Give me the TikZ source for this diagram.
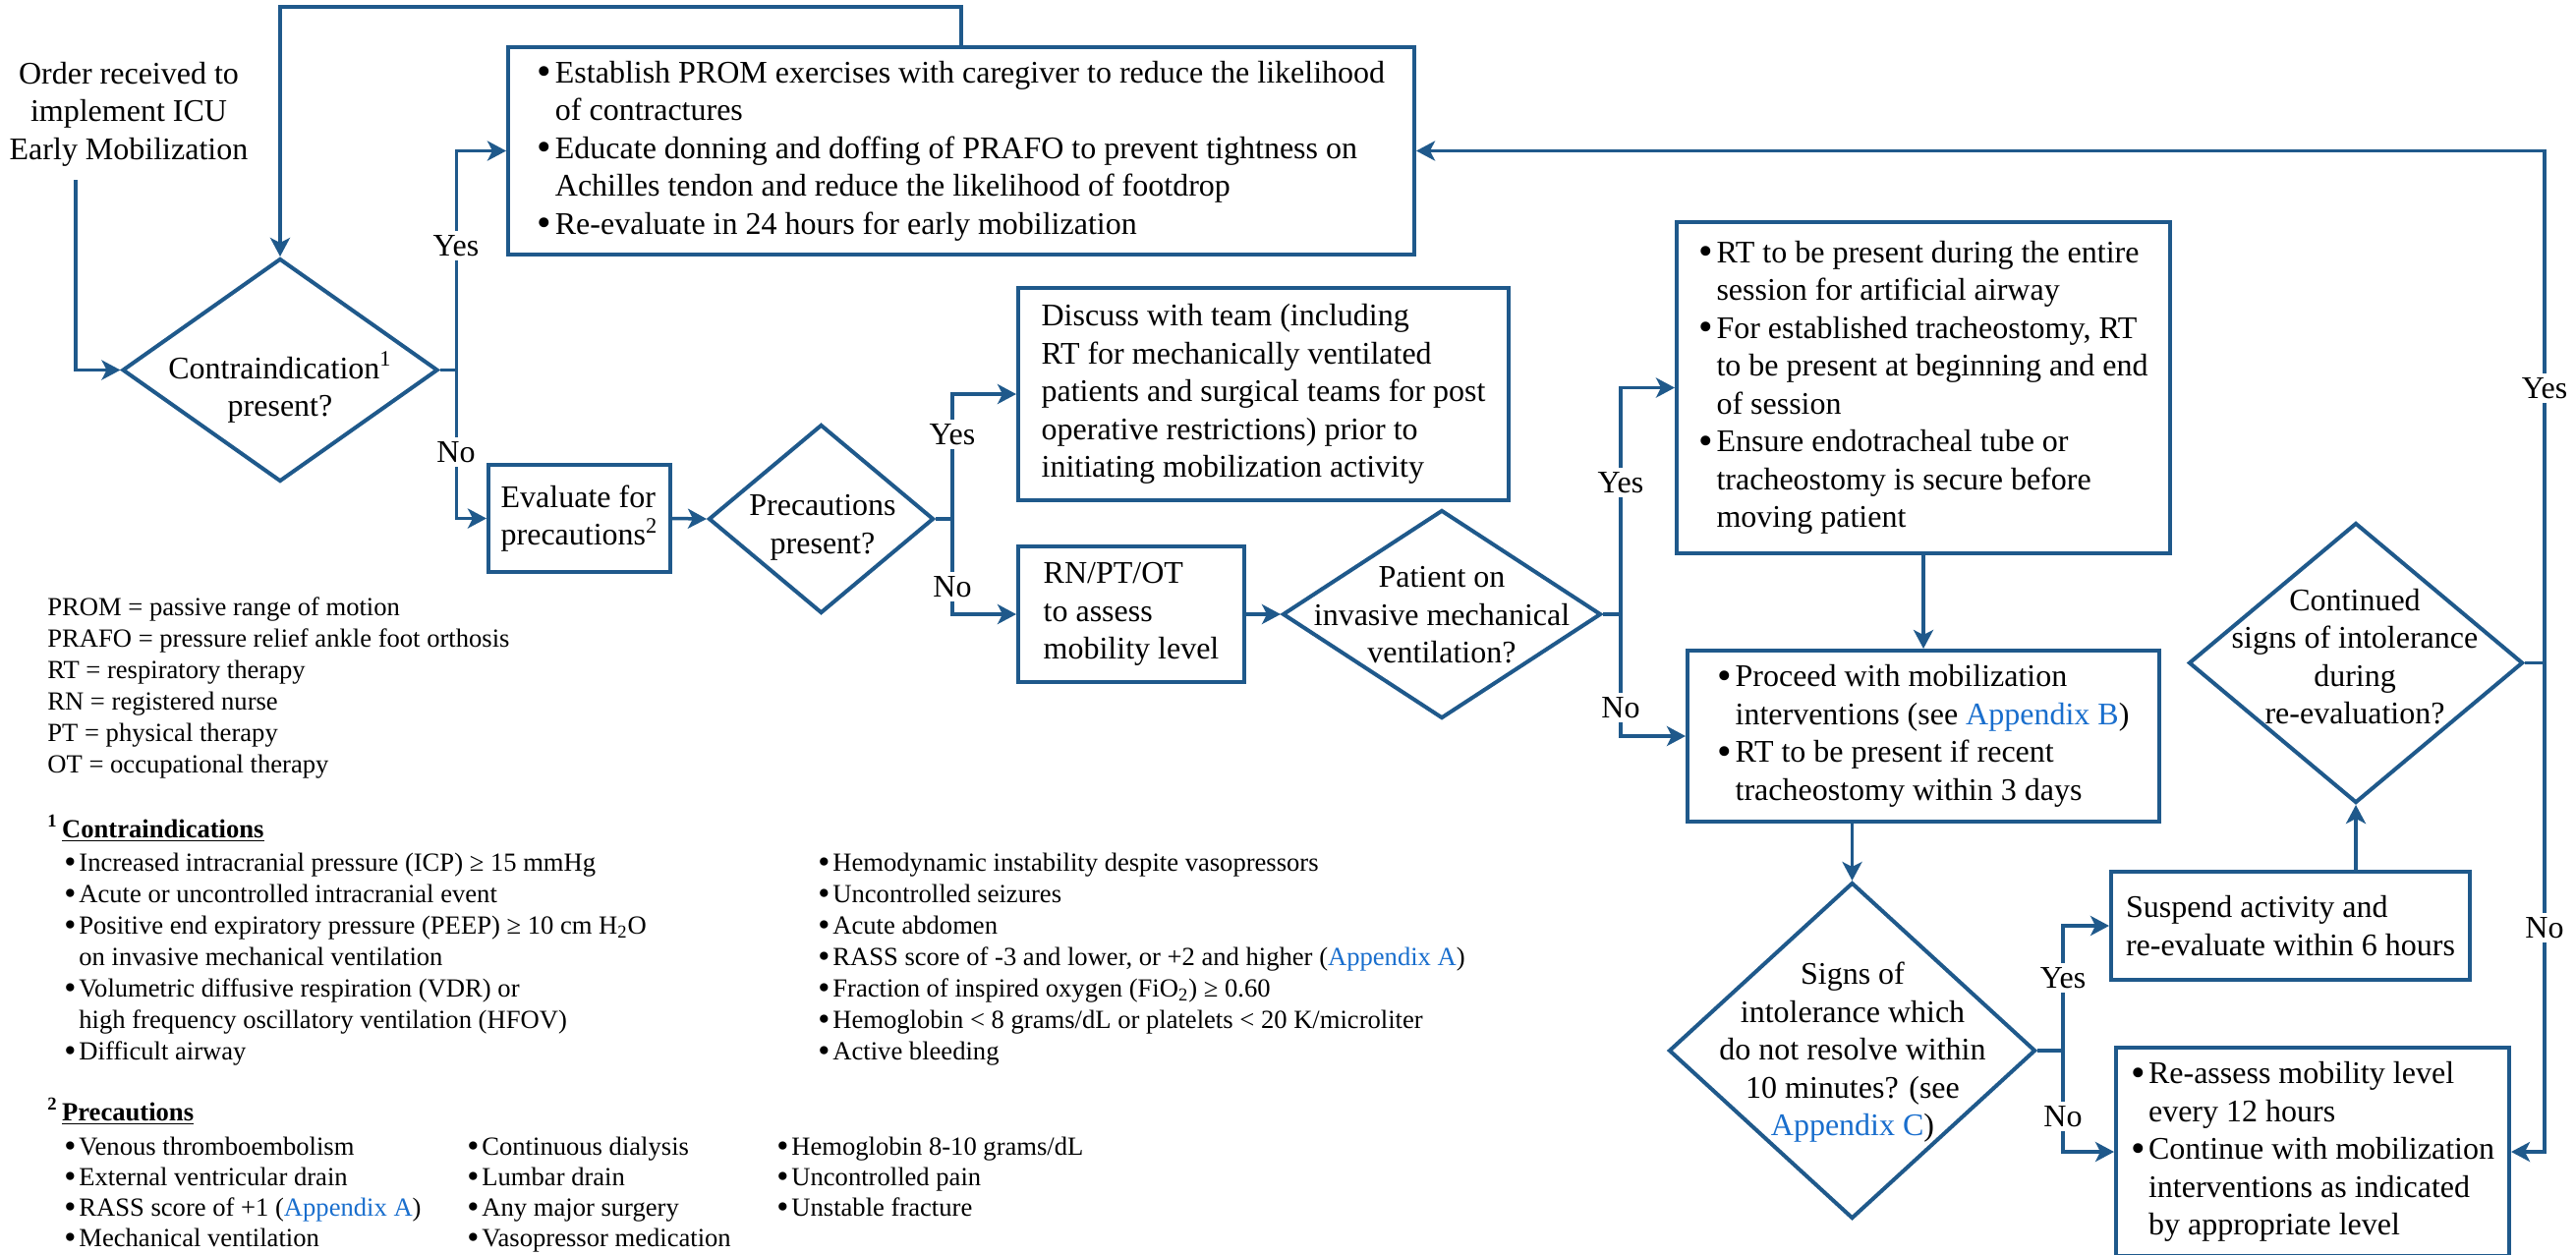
\documentclass[tikz,border=0pt]{standalone}
\usepackage{fontspec}
\setmainfont{Liberation Serif}
\usetikzlibrary{arrows.meta,shapes.geometric,calc}
\definecolor{fc}{RGB}{31,89,139}
\definecolor{lk}{RGB}{25,110,205}
\newcommand\boxfont{\fontsize{16pt}{19.25pt}\selectfont}
\newcommand\notefont{\fontsize{13.3pt}{16pt}\selectfont}
\newcommand\bigbul{\raisebox{-0.08em}{\scalebox{1.3}{\textbullet}}}
\newcommand\bu{\makebox[9pt][l]{\bigbul}}
\newcommand\hg{\hspace*{9pt}}
\newcommand\nb{\makebox[7.5pt][l]{\bigbul}}
\begin{document}
\begin{tikzpicture}[x=0.5pt,y=-0.5pt,
  box/.style={draw=fc,line width=2pt,inner sep=0pt,font=\boxfont,align=left},
  dia/.style={draw=fc,line width=2pt,diamond,inner sep=0pt},
  dtext/.style={font=\boxfont,align=center,inner sep=0pt},
  conn/.style={draw=fc,line width=1.75pt,-{Stealth[length=9.5pt,width=10pt,inset=2.5pt]}},
  lab/.style={fill=white,font=\boxfont,inner sep=2pt},
  note/.style={font=\notefont,inner sep=0pt,anchor=base west}]
\useasboundingbox (0,0) rectangle (2621,1276);
\clip (0,0) rectangle (2621,1276);

% boxes
\node[box,minimum width=461pt,minimum height=105.5pt] (prom) at (978,153.5)
 {\bu Establish PROM exercises with caregiver to reduce the likelihood\\
  \hg of contractures\\
  \bu Educate donning and doffing of PRAFO to prevent tightness on\\
  \hg Achilles tendon and reduce the likelihood of footdrop\\
  \bu Re-evaluate in 24 hours for early mobilization};
\node[box,minimum width=92.5pt,minimum height=54.5pt] (eval) at (589.5,527.5)
 {Evaluate for\\precautions\textsuperscript{2}};
\node[box,minimum width=249.5pt,minimum height=108pt] (disc) at (1285.5,401)
 {Discuss with team (including\\RT for mechanically ventilated\\patients and surgical teams for post\\operative restrictions) prior to\\initiating mobilization activity};
\node[box,minimum width=115pt,minimum height=69pt] (rn) at (1151,625)
 {RN/PT/OT\\to assess\\mobility level};
\node[box,minimum width=251pt,minimum height=168.5pt] (rt) at (1957,394.5)
 {\bu RT to be present during the entire\\
  \hg session for artificial airway\\
  \bu For established tracheostomy, RT\\
  \hg to be present at beginning and end\\
  \hg of session\\
  \bu Ensure endotracheal tube or\\
  \hg tracheostomy is secure before\\
  \hg moving patient};
\node[box,minimum width=240pt,minimum height=87pt] (proc) at (1957,749)
 {\bu Proceed with mobilization\\
  \hg interventions (see {\color{lk}Appendix B})\\
  \bu RT to be present if recent\\
  \hg tracheostomy within 3 days};
\node[box,minimum width=182.5pt,minimum height=55pt] (susp) at (2330.5,942)
 {Suspend activity and\\re-evaluate within 6 hours};
\node[box,minimum width=200pt,minimum height=106pt] (reas) at (2353,1172)
 {\bu Re-assess mobility level\\
  \hg every 12 hours\\
  \bu Continue with mobilization\\
  \hg interventions as indicated\\
  \hg by appropriate level};

% diamonds
\node[dia,minimum width=160.5pt,minimum height=113.5pt] (d1) at (285,376.5) {};
\node[dtext] (d1t) at (285,394) {Contraindication\textsuperscript{1}\\present?};
\node[dia,minimum width=114.5pt,minimum height=96pt] (d2) at (835.5,528) {};
\node[dtext] (d2t) at (837,537) {Precautions\\present?};
\node[dia,minimum width=162pt,minimum height=106pt] (d3) at (1467,625) {};
\node[dtext] (d3t) at (1467,626) {Patient on\\invasive mechanical\\ventilation?};
\node[dia,minimum width=186.5pt,minimum height=171pt] (d4) at (1884.5,1069) {};
\node[dtext] (d4t) at (1885,1071) {Signs of\\intolerance which\\do not resolve within\\10 minutes? (see\\{\color{lk}Appendix C})};
\node[dia,minimum width=170pt,minimum height=142.5pt] (d5) at (2397,674.5) {};
\node[dtext] (d5t) at (2396,668) {Continued\\signs of intolerance\\during\\re-evaluation?};

% start text
\node[dtext] (order) at (131,116) {Order received to\\implement ICU\\Early Mobilization};
\coordinate (ostart) at (77,183);

% connectors
\draw[conn] (ostart) |- (d1.west);
\draw[conn] (prom.north) -- ++(0,-39) -| (d1.north);
\draw[conn] (d1.east) -- ++(17,0) |- (prom.west);
\draw[conn] (d1.east) -- ++(17,0) |- (eval.west);
\draw[conn] (eval.east) -- (d2.west);
\draw[conn] (d2.east) -- ++(17,0) |- (disc.west);
\draw[conn] (d2.east) -- ++(17,0) |- (rn.west);
\draw[conn] (rn.east) -- (d3.west);
\draw[conn] (d3.east) -- ++(18,0) |- (rt.west);
\draw[conn] (d3.east) -- ++(18,0) |- (proc.west);
\draw[conn] (rt.south) -- (proc.north);
\draw[conn] (proc.south -| d4.north) -- (d4.north);
\draw[conn] (d4.east) -- ++(26,0) |- (susp.west);
\draw[conn] (d4.east) -- ++(26,0) |- (reas.west);
\draw[conn] (susp.north -| d5.south) -- (d5.south);
\draw[conn] (d5.east) -- ++(20,0) |- (prom.east);
\draw[conn] (d5.east) -- ++(20,0) |- (reas.east);

% labels
\node[lab] (l1) at (464,250) {Yes};
\node[lab] (l2) at (464,460) {No};
\node[lab] (l3) at (969,442) {Yes};
\node[lab] (l4) at (969,597) {No};
\node[lab] (l5) at (1649,491) {Yes};
\node[lab] (l6) at (1649,720) {No};
\node[lab] (l7) at (2099,995) {Yes};
\node[lab] (l8) at (2099,1136) {No};
\node[lab] (l9) at (2589,395) {Yes};
\node[lab] (l10) at (2589,944) {No};

% legend
\node[note] (g1) at (48,626) {PROM = passive range of motion};
\node[note] (g2) at (48,658) {PRAFO = pressure relief ankle foot orthosis};
\node[note] (g3) at (48,690) {RT = respiratory therapy};
\node[note] (g4) at (48,722) {RN = registered nurse};
\node[note] (g5) at (48,754) {PT = physical therapy};
\node[note] (g6) at (48,786) {OT = occupational therapy};

% contraindications
\node[note] (h1) at (48,852) {\textbf{\textsuperscript{1}\,\underline{Contraindications}}};
\node[note] (c1) at (65,886) {\nb Increased intracranial pressure (ICP) ≥ 15 mmHg};
\node[note] (c2) at (65,918) {\nb Acute or uncontrolled intracranial event};
\node[note] (c3) at (65,950) {\nb Positive end expiratory pressure (PEEP) ≥ 10 cm H\textsubscript{2}O};
\node[note] (c4) at (80,982) {on invasive mechanical ventilation};
\node[note] (c5) at (65,1014) {\nb Volumetric diffusive respiration (VDR) or};
\node[note] (c6) at (80,1046) {high frequency oscillatory ventilation (HFOV)};
\node[note] (c7) at (65,1078) {\nb Difficult airway};
\node[note] (c8) at (832,886) {\nb Hemodynamic instability despite vasopressors};
\node[note] (c9) at (832,918) {\nb Uncontrolled seizures};
\node[note] (c10) at (832,950) {\nb Acute abdomen};
\node[note] (c11) at (832,982) {\nb RASS score of -3 and lower, or +2 and higher ({\color{lk}Appendix A})};
\node[note] (c12) at (832,1014) {\nb Fraction of inspired oxygen (FiO\textsubscript{2}) ≥ 0.60};
\node[note] (c13) at (832,1046) {\nb Hemoglobin < 8 grams/dL or platelets < 20 K/microliter};
\node[note] (c14) at (832,1078) {\nb Active bleeding};

% precautions
\node[note] (h2) at (48,1140) {\textbf{\textsuperscript{2}\,\underline{Precautions}}};
\node[note] (p1) at (65,1175) {\nb Venous thromboembolism};
\node[note] (p2) at (65,1206) {\nb External ventricular drain};
\node[note] (p3) at (65,1237) {\nb RASS score of +1 ({\color{lk}Appendix A})};
\node[note] (p4) at (65,1268) {\nb Mechanical ventilation};
\node[note] (p5) at (475,1175) {\nb Continuous dialysis};
\node[note] (p6) at (475,1206) {\nb Lumbar drain};
\node[note] (p7) at (475,1237) {\nb Any major surgery};
\node[note] (p8) at (475,1268) {\nb Vasopressor medication};
\node[note] (p9) at (790,1175) {\nb Hemoglobin 8-10 grams/dL};
\node[note] (p10) at (790,1206) {\nb Uncontrolled pain};
\node[note] (p11) at (790,1237) {\nb Unstable fracture};
\end{tikzpicture}
\end{document}
